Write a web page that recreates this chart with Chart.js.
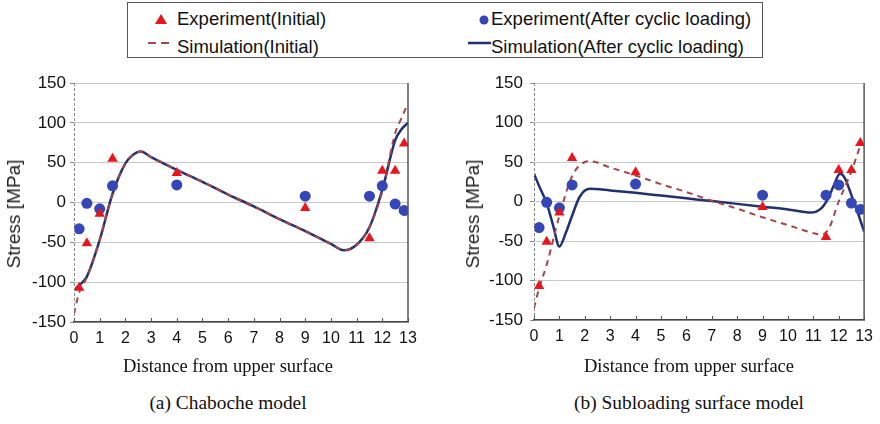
<!DOCTYPE html>
<html>
<head>
<meta charset="utf-8">
<script src="https://cdn.jsdelivr.net/npm/chart.js@4"></script>
<style>
  body { margin: 0; background: #fff; }
  #page { position: relative; width: 880px; height: 424px; overflow: hidden; font-family: "Liberation Sans", Arial, sans-serif; }
  canvas { position: absolute; }
  #legend { position: absolute; left: 127px; top: 2px; width: 634px; height: 54px; border: 1.5px solid #555; }
  .lg { position: absolute; font-size: 18.5px; color: #111; white-space: nowrap; line-height: 20px; }
  .sym { position: absolute; }
  .cap { position: absolute; font-family: "Liberation Serif", "Times New Roman", serif; color: #111; white-space: nowrap; transform: translateX(-50%); }
  .ytitle { position: absolute; font-size: 19px; color: #222; white-space: nowrap; transform: translate(-50%, -50%) rotate(-90deg); }
</style>
</head>
<body>
<div id="page">
  <div id="legend">
    <svg class="sym" style="left:25px;top:9px" width="16" height="14"><polygon points="8,2 14,12 2,12" fill="#e8161c"/></svg>
    <div class="lg" style="left:49px;top:6px">Experiment(Initial)</div>
    <svg class="sym" style="left:19px;top:37px" width="28" height="6"><line x1="1" y1="3" x2="27" y2="3" stroke="#a0474b" stroke-width="2" stroke-dasharray="8,5"/></svg>
    <div class="lg" style="left:49px;top:34px">Simulation(Initial)</div>
    <svg class="sym" style="left:349px;top:10px" width="14" height="14"><circle cx="7" cy="7" r="4.5" fill="#3446b8"/></svg>
    <div class="lg" style="left:363px;top:6px">Experiment(After cyclic loading)</div>
    <svg class="sym" style="left:340px;top:37px" width="24" height="6"><line x1="0" y1="3" x2="23" y2="3" stroke="#22306e" stroke-width="2.5"/></svg>
    <div class="lg" style="left:363px;top:34px">Simulation(After cyclic loading)</div>
  </div>

  <canvas id="chartA" width="430" height="300" style="left:0;top:60px"></canvas>
  <canvas id="chartB" width="440" height="300" style="left:440px;top:60px"></canvas>

  <div class="ytitle" style="left:14px;top:214px">Stress [MPa]</div>
  <div class="ytitle" style="left:473px;top:214px">Stress [MPa]</div>

  <div class="cap" style="left:228px;top:356px;font-size:18.5px">Distance from upper surface</div>
  <div class="cap" style="left:689px;top:356px;font-size:18.5px">Distance from upper surface</div>
  <div class="cap" style="left:228px;top:392px;font-size:19.4px">(a) Chaboche model</div>
  <div class="cap" style="left:689px;top:392px;font-size:19.4px">(b) Subloading surface model</div>
</div>

<script>
// measured stress, same specimens in both panels
const expX = [0.2, 0.5, 1.0, 1.5, 4.0, 9.0, 11.5, 12.0, 12.5, 12.85];
const expInitial = [-107, -51, -14, 55, 37, -7, -45, 40, 40, 74];
const expCyclic = [-33, -1, -8, 21, 22, 8, 8, 21, -2, -10];

// (a) Chaboche model
const simAX = [0, 0.2, 0.5, 1, 1.5, 2, 2.3, 2.6, 3, 4, 5, 6, 7, 8, 9, 10, 10.5, 11, 11.5, 12, 12.5, 12.75, 13];
const simAInitial = [-140, -113, -94, -47, 11, 49, 60, 64, 57, 41, 26, 10, -5, -21, -36, -52, -60, -53, -31, 14, 87, 106, 125];
const simACyclic = [-110, -104, -93, -47, 11, 49, 60, 64, 57, 41, 26, 10, -5, -21, -36, -52, -60, -53, -31, 16, 78, 92, 100];

// (b) Subloading surface model
const simBInitialX = [0, 0.2, 0.5, 1, 1.5, 2, 2.2, 3, 4, 5, 6, 7, 8, 9, 10, 11, 11.3, 11.6, 12, 12.5, 12.9];
const simBInitial = [-135, -110, -80, -18, 32, 50, 51, 43, 33, 22, 12, 1, -9, -20, -30, -40, -42, -35, 0, 38, 76];
const simBCyclicX = [0, 0.25, 0.5, 0.75, 1, 1.25, 1.5, 1.8, 2.2, 3, 4, 5, 6, 7, 8, 9, 10, 10.9, 11.3, 11.6, 11.8, 12.05, 12.25, 12.5, 12.75, 13];
const simBCyclic = [35, 16, -2, -30, -57, -40, -18, 6, 16, 14, 11, 7.5, 4, 0.5, -3, -6.5, -10, -14, -9, 5, 20, 35, 29, 8, -14, -38];

const RED = "#e8161c", BLUE = "#3446b8", DASH = "#a0474b", NAVY = "#22306e";
const pts = (xs, ys) => xs.map((x, i) => ({ x: x, y: ys[i] }));

// dashed left axis, short inward ticks on the x axis and a closing line on the right
const frame = {
    id: "frame",
    afterDatasetsDraw(chart) {
        const ctx = chart.ctx, area = chart.chartArea, sx = chart.scales.x;
        ctx.save();
        ctx.strokeStyle = "#888";
        ctx.lineWidth = 1;
        ctx.setLineDash([3, 2]);
        ctx.beginPath();
        ctx.moveTo(area.left + 0.5, area.top);
        ctx.lineTo(area.left + 0.5, area.bottom);
        ctx.stroke();
        ctx.setLineDash([]);
        ctx.strokeStyle = "#555";
        sx.ticks.forEach(t => {
            const px = Math.round(sx.getPixelForValue(t.value)) + 0.5;
            ctx.beginPath();
            ctx.moveTo(px, area.bottom);
            ctx.lineTo(px, area.bottom - 4);
            ctx.stroke();
        });
        ctx.lineWidth = 1.5;
        ctx.beginPath();
        ctx.moveTo(area.right, area.top);
        ctx.lineTo(area.right, area.bottom + 0.5);
        ctx.stroke();
        ctx.restore();
    }
};

function makeChart(id, sim, layout) {
    new Chart(document.getElementById(id), {
        type: "scatter",
        data: {
            datasets: [
                { label: "Experiment(Initial)", data: pts(expX, expInitial), pointStyle: "triangle",
                  pointRadius: 6, backgroundColor: RED, borderColor: RED, borderWidth: 0, order: 0 },
                { label: "Experiment(After cyclic loading)", data: pts(expX, expCyclic), pointStyle: "circle",
                  pointRadius: 5.5, backgroundColor: BLUE, borderColor: BLUE, borderWidth: 0, order: 0 },
                { label: "Simulation(Initial)", data: pts(sim.initX, sim.init), showLine: true, pointRadius: 0,
                  borderColor: DASH, borderWidth: 2, borderDash: [6, 5], cubicInterpolationMode: "monotone", order: 1 },
                { label: "Simulation(After cyclic loading)", data: pts(sim.cycX, sim.cyc), showLine: true, pointRadius: 0,
                  borderColor: NAVY, borderWidth: 2.5, cubicInterpolationMode: "monotone", order: 2 }
            ]
        },
        options: {
            responsive: false,
            animation: false,
            layout: { padding: { top: layout.top, right: layout.right, left: 0, bottom: 0 } },
            plugins: { legend: { display: false }, tooltip: { enabled: false } },
            scales: {
                x: {
                    type: "linear", min: 0, max: 13,
                    ticks: { stepSize: 1, color: "#111", padding: 7, font: { family: "'Liberation Sans', Arial", size: 16 } },
                    grid: { color: "rgba(0,0,0,0)", drawTicks: false },
                    border: { color: "#444", width: 1.5 },
                    afterFit: s => { s.height = layout.xh; }
                },
                y: {
                    min: -150, max: 150,
                    ticks: { stepSize: 50, color: "#111", padding: layout.tp, font: { family: "'Liberation Sans', Arial", size: 17 } },
                    grid: { color: "#c8c8c8", lineWidth: 1, tickLength: 4, tickColor: "#888" },
                    border: { display: false },
                    afterFit: s => { s.width = layout.yw; }
                }
            }
        },
        plugins: [frame]
    });
}

makeChart("chartA",
    { initX: simAX, init: simAInitial, cycX: simAX, cyc: simACyclic },
    { top: 23, right: 22, xh: 38, yw: 74, tp: 4 });
makeChart("chartB",
    { initX: simBInitialX, init: simBInitial, cycX: simBCyclicX, cyc: simBCyclic },
    { top: 23, right: 15, xh: 40, yw: 94, tp: 7 });
</script>
</body>
</html>
